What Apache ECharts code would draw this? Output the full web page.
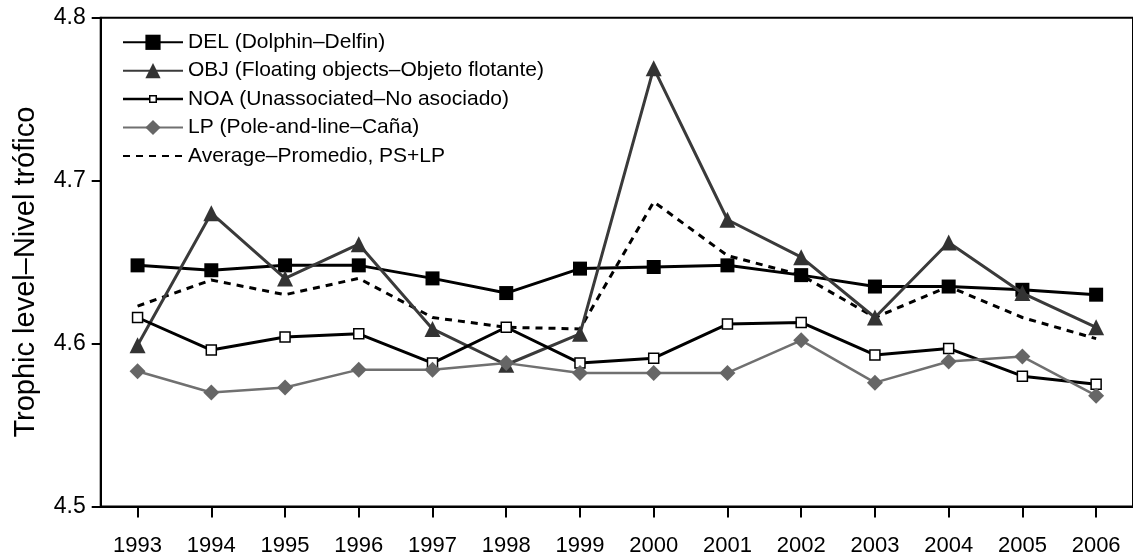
<!DOCTYPE html>
<html>
<head>
<meta charset="utf-8">
<script src="https://cdn.jsdelivr.net/npm/echarts@6/dist/echarts.min.js"></script>
<style>
html,body{margin:0;padding:0;background:#fff;}
#chart{width:1133px;height:558px;}
</style>
</head>
<body>
<div id="chart"></div>
<script>
const years = ['1993','1994','1995','1996','1997','1998','1999','2000','2001','2002','2003','2004','2005','2006'];
const yTicks = [4.5, 4.6, 4.7, 4.8];
const delValues = [4.648, 4.645, 4.648, 4.648, 4.640, 4.631, 4.646, 4.647, 4.648, 4.642, 4.635, 4.635, 4.633, 4.630];
const objValues = [4.599, 4.680, 4.640, 4.661, 4.609, 4.587, 4.606, 4.769, 4.676, 4.653, 4.616, 4.662, 4.631, 4.610];
const noaValues = [4.616, 4.596, 4.604, 4.606, 4.588, 4.610, 4.588, 4.591, 4.612, 4.613, 4.593, 4.597, 4.580, 4.575];
const lpValues  = [4.583, 4.570, 4.573, 4.584, 4.584, 4.588, 4.582, 4.582, 4.582, 4.602, 4.576, 4.589, 4.592, 4.568];
const avgValues = [4.623, 4.639, 4.630, 4.640, 4.616, 4.610, 4.609, 4.687, 4.654, 4.642, 4.616, 4.635, 4.616, 4.603];
const names = {
  del: 'DEL (Dolphin\u2013Delfin)',
  obj: 'OBJ (Floating objects\u2013Objeto flotante)',
  noa: 'NOA (Unassociated\u2013No asociado)',
  lp: 'LP (Pole-and-line\u2013Ca\u00f1a)',
  avg: 'Average\u2013Promedio, PS+LP'
};
const FONT = '"Liberation Sans", Arial, Helvetica, sans-serif';

// legend icon for NOA: line with small hollow square (60 x 19 box)
const noaLegendIcon = 'path://' +
  'M0,0 L0.01,0 L0.01,0.01 Z ' +
  'M60,19 L59.99,19 L59.99,18.99 Z ' +
  'M0,8.25 L26,8.25 L26,10.75 L0,10.75 Z ' +
  'M34,8.25 L60,8.25 L60,10.75 L34,10.75 Z ' +
  'M26,5.5 L34,5.5 L34,13.5 L26,13.5 Z ' +
  'M27.5,7 L27.5,12 L32.5,12 L32.5,7 Z';

const chart = echarts.init(document.getElementById('chart'), null, {renderer: 'canvas'});
chart.setOption({
  animation: false,
  backgroundColor: '#fff',
  textStyle: {fontFamily: FONT, color: '#000'},
  grid: {
    left: 100.7, top: 17.7, width: 1038.8, height: 488.8,
    show: true, borderColor: '#000', borderWidth: 2, backgroundColor: 'transparent'
  },
  legend: {
    orient: 'vertical',
    left: 117, top: 26.3,
    itemWidth: 60, itemHeight: 19, itemGap: 6.4,
    textStyle: {fontFamily: FONT, fontSize: 21, lineHeight: 22, color: '#000'},
    data: [
      {name: names.del},
      {name: names.obj},
      {name: names.noa, icon: noaLegendIcon, itemStyle: {color: '#000', borderWidth: 0}},
      {name: names.lp},
      {name: names.avg, itemStyle: {color: 'rgba(0,0,0,0)', borderWidth: 0, borderColor: 'rgba(0,0,0,0)'}}
    ]
  },
  xAxis: {
    type: 'category',
    data: years,
    boundaryGap: true,
    axisLine: {show: true, lineStyle: {color: '#000', width: 2}},
    axisTick: {show: true, alignWithLabel: true, length: 11, lineStyle: {color: '#000', width: 2}},
    axisLabel: {fontFamily: FONT, fontSize: 22, color: '#000', margin: 28},
    splitLine: {show: false}
  },
  yAxis: {
    type: 'value',
    min: yTicks[0], max: yTicks[yTicks.length - 1], interval: 0.1,
    name: 'Trophic level\u2013Nivel tr\u00f3fico',
    nameLocation: 'middle',
    nameGap: 60,
    nameTextStyle: {fontFamily: FONT, fontSize: 29, color: '#000', padding: [0, 20, 0, 0]},
    axisLine: {show: true, lineStyle: {color: '#000', width: 2}},
    axisTick: {show: true, length: 9, lineStyle: {color: '#000', width: 2}},
    axisLabel: {fontFamily: FONT, fontSize: 23, color: '#000', margin: 15,
      formatter: v => v.toFixed(1)},
    splitLine: {show: false}
  },
  series: [
    {
      name: names.avg, type: 'line', data: avgValues,
      symbol: 'none', z: 2,
      lineStyle: {color: '#000', width: 3, type: [7, 6]},
      itemStyle: {color: '#000'}
    },
    {
      name: names.del, type: 'line', data: delValues,
      symbol: 'rect', symbolSize: 14, z: 3,
      lineStyle: {color: '#000', width: 3},
      itemStyle: {color: '#000'}
    },
    {
      name: names.obj, type: 'line', data: objValues,
      symbol: 'triangle', symbolSize: 16, z: 4,
      lineStyle: {color: '#3a3a3a', width: 3},
      itemStyle: {color: '#333'}
    },
    {
      name: names.noa, type: 'line', data: noaValues,
      symbol: 'rect', symbolSize: 10, z: 5,
      lineStyle: {color: '#000', width: 3},
      itemStyle: {color: '#fff', borderColor: '#000', borderWidth: 1.5}
    },
    {
      name: names.lp, type: 'line', data: lpValues,
      symbol: 'diamond', symbolSize: 16, z: 6,
      lineStyle: {color: '#707070', width: 2.5},
      itemStyle: {color: '#666'}
    }
  ]
});
</script>
</body>
</html>
